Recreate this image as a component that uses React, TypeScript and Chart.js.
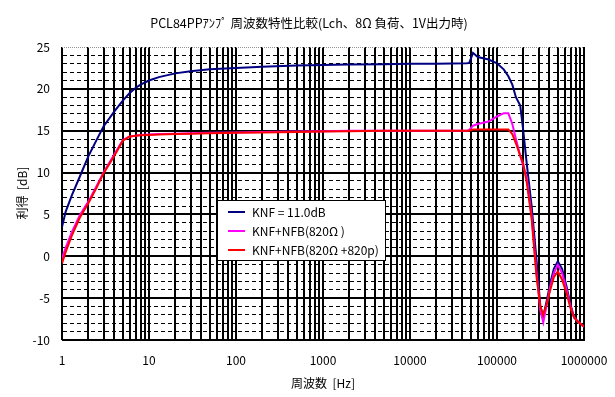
import React, { useEffect, useRef } from 'react';
import { Chart, registerables } from 'chart.js';
Chart.register(...registerables);

const TITLE = 'PCL84PPｱﾝﾌﾟ 周波数特性比較(Lch、8Ω 負荷、1V出力時)';
const X_TITLE = '周波数  [Hz]';
const Y_TITLE = '利得  [dB]';
const SERIES_NAMES = ['KNF = 11.0dB', 'KNF+NFB(820Ω )', 'KNF+NFB(820Ω +820p)'];
const SERIES_COLORS = ['#000080', '#FF00FF', '#FF0000'];

const FREQ = [1, 1.1, 1.3, 1.6, 2, 2.5, 3, 4, 5, 6, 7, 8, 10, 13, 20, 30, 50, 100, 200, 500, 1000, 2000, 5000, 10000, 20000, 45000, 48000, 53000, 60000, 80000, 100000, 120000, 135000, 150000, 165000, 185000, 200000, 220000, 250000, 285000, 315000, 340000, 370000, 410000, 450000, 500000, 560000, 630000, 700000, 770000, 850000, 1000000];
const GAIN_KNF = [3.5, 5.3, 7.3, 9.5, 11.9, 13.9, 15.5, 17.3, 18.6, 19.5, 20.1, 20.5, 21.0, 21.4, 21.85, 22.1, 22.35, 22.5, 22.65, 22.8, 22.85, 22.9, 22.95, 23.0, 23.0, 23.05, 23.1, 24.3, 23.8, 23.5, 23.05, 22.3, 21.5, 20.5, 19.0, 18.0, 15.1, 11.0, 6.0, -0.5, -6.0, -7.2, -5.5, -3.2, -1.5, -0.6, -1.5, -3.6, -5.8, -7.3, -7.8, -8.4];
const GAIN_NFB = [-0.25, 1.0, 2.9, 4.9, 6.5, 8.4, 10.0, 12.2, 13.9, 14.3, 14.4, 14.5, 14.55, 14.6, 14.65, 14.7, 14.75, 14.8, 14.85, 14.9, 14.95, 15.0, 15.0, 15.0, 15.0, 15.0, 15.1, 15.6, 15.8, 16.1, 16.7, 17.1, 17.1, 15.8, 14.0, 12.0, 10.8, 9.3, 4.8, -2.0, -6.5, -7.9, -6.0, -3.6, -2.0, -1.0, -2.0, -4.0, -6.0, -7.3, -7.8, -8.4];
const GAIN_NFB_C = [-0.85, 0.5, 2.5, 4.6, 6.3, 8.2, 9.9, 12.0, 13.8, 14.3, 14.4, 14.45, 14.5, 14.55, 14.6, 14.65, 14.7, 14.75, 14.8, 14.85, 14.9, 14.95, 15.0, 15.0, 15.0, 15.0, 15.0, 15.15, 15.15, 15.15, 15.15, 15.15, 15.15, 14.6, 13.5, 12.0, 11.1, 8.8, 4.5, -2.5, -6.0, -7.0, -5.8, -4.0, -2.5, -1.8, -2.8, -4.4, -6.2, -7.3, -7.8, -8.4];

const X_TICK_LABELS = [1, 10, 100, 1000, 10000, 100000, 1000000];
const Y_MIN = -10;
const Y_MAX = 25;

const FONT = '"Noto Sans CJK JP", "Liberation Sans", sans-serif';

export default function App() {
  const ref = useRef<HTMLCanvasElement>(null);
  useEffect(() => {
    document.body.style.margin = '0';
    document.body.style.overflow = 'hidden';
    const canvas = ref.current!;
    const series = [GAIN_KNF, GAIN_NFB, GAIN_NFB_C];
    const datasets = series.map((g, i) => ({
      label: SERIES_NAMES[i],
      data: FREQ.map((f, j) => ({ x: f, y: g[j] })),
      borderColor: SERIES_COLORS[i],
      backgroundColor: SERIES_COLORS[i],
      borderWidth: 2,
      pointRadius: 0,
      tension: 0,
      order: 2 - i,
    }));

    const textPlugin = {
      id: 'texts',
      afterDraw(chart: any) {
        const ctx = chart.ctx;
        const a = chart.chartArea;
        const xs = chart.scales.x;
        ctx.save();
        // top border of plot area: grey dotted
        ctx.strokeStyle = '#909090';
        ctx.lineWidth = 1;
        ctx.setLineDash([1, 1]);
        ctx.beginPath();
        ctx.moveTo(a.left, a.top + 0.5);
        ctx.lineTo(a.right, a.top + 0.5);
        ctx.stroke();
        ctx.setLineDash([]);

        ctx.fillStyle = '#000';
        ctx.font = `12.5px ${FONT}`;
        ctx.textBaseline = 'middle';
        ctx.textAlign = 'center';
        ctx.fillText(TITLE, 309, 23);
        ctx.font = `12px ${FONT}`;
        ctx.fillText(X_TITLE, (a.left + a.right) / 2, 383);
        // x tick labels at the decade ticks of the log scale
        X_TICK_LABELS.forEach((v) => {
          ctx.fillText(String(v), xs.getPixelForValue(v), 360);
        });
        ctx.save();
        ctx.translate(22, 193);
        ctx.rotate(-Math.PI / 2);
        ctx.fillText(Y_TITLE, 0, 0);
        ctx.restore();
        // legend
        const lx = 217, ly = 200, lw = 168, lh = 60;
        ctx.fillStyle = '#fff';
        ctx.fillRect(lx, ly, lw, lh);
        ctx.strokeStyle = '#000';
        ctx.lineWidth = 1;
        ctx.strokeRect(lx + 0.5, ly + 0.5, lw, lh);
        ctx.textAlign = 'left';
        SERIES_NAMES.forEach((name, i) => {
          const y = ly + 12 + i * 19;
          ctx.strokeStyle = SERIES_COLORS[i];
          ctx.lineWidth = 2;
          ctx.beginPath();
          ctx.moveTo(lx + 11, y);
          ctx.lineTo(lx + 28, y);
          ctx.stroke();
          ctx.fillStyle = '#000';
          ctx.fillText(name, lx + 35, y);
        });
        ctx.restore();
      },
    };

    const chart = new Chart(canvas, {
      type: 'line',
      data: { datasets },
      plugins: [textPlugin],
      options: {
        animation: false,
        responsive: false,
        devicePixelRatio: 1,
        layout: { padding: { left: 0, top: 47, right: 31, bottom: 0 } },
        plugins: { legend: { display: false }, tooltip: { enabled: false }, title: { display: false } },
        scales: {
          x: {
            type: 'logarithmic',
            min: 1,
            max: 1000000,
            afterBuildTicks: (s: any) => {
              const t: any[] = [];
              for (let e = 0; e < 6; e++) for (let m = 1; m < 10; m++) t.push({ value: m * Math.pow(10, e) });
              t.push({ value: 1000000 });
              s.ticks = t;
            },
            afterFit: (s: any) => { s.height = 57; },
            ticks: {
              autoSkip: false,
              maxRotation: 0,
              minRotation: 0,
              display: false,
            },
            grid: { color: '#000', lineWidth: 2, drawTicks: false },
            border: { color: '#000', width: 1 },
          },
          y: {
            type: 'linear',
            min: Y_MIN,
            max: Y_MAX,
            afterFit: (s: any) => { s.width = 62; },
            ticks: {
              stepSize: 1,
              autoSkip: false,
              padding: 12,
              color: '#000',
              font: { family: FONT, size: 12 },
              callback: (v: any) => (Number(v) % 5 === 0 ? String(v) : ''),
            },
            grid: {
              drawTicks: false,
              lineWidth: (c: any) => (c.tick && c.tick.value % 5 === 0 ? 2 : 1),
              color: (c: any) => (c.tick && c.tick.value === Y_MAX ? 'rgba(0,0,0,0)' : '#000'),
            },
            border: {
              color: '#000',
              width: 1,
              dash: (c: any) => {
                if (!c.tick) return [];
                const v = c.tick.value;
                return v % 5 === 0 ? [] : [4, 3];
              },
            },
          },
        },
      } as any,
    });
    return () => chart.destroy();
  }, []);
  return <canvas ref={ref} width={615} height={397} style={{ display: 'block' }} />;
}
